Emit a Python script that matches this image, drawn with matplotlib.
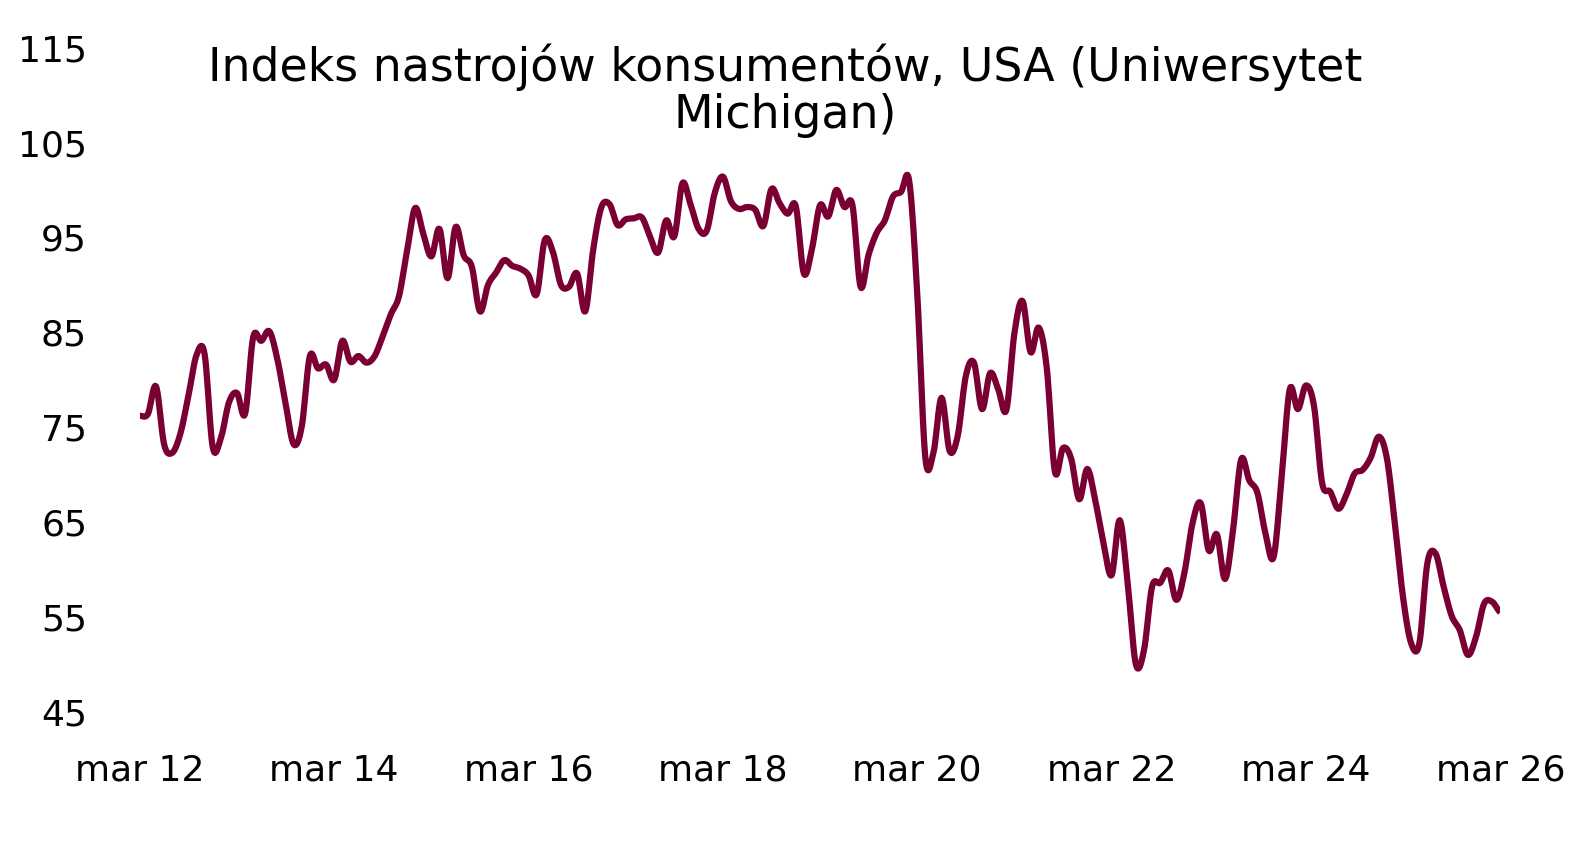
import numpy as np
import matplotlib
matplotlib.use("Agg")
import matplotlib.pyplot as plt

values = [76.2,76.4,79.3,73.2,72.3,74.3,78.3,82.6,82.7,72.9,
73.8,77.6,78.6,76.4,84.5,84.1,85.1,82.1,77.5,73.2,75.1,82.5,
81.2,81.6,80.0,84.1,81.9,82.5,81.8,82.5,84.6,86.9,88.8,93.6,
98.1,95.4,93.0,95.9,90.7,96.1,93.1,91.9,87.2,90.0,91.3,92.6,
92.0,91.7,91.0,89.0,94.7,93.5,90.0,89.8,91.2,87.2,93.8,98.2,
98.5,96.3,96.9,97.0,97.1,95.1,93.4,96.8,95.1,100.7,98.5,95.9,
95.7,99.7,101.4,98.8,98.0,98.2,97.9,96.2,100.1,98.6,97.5,98.3,
91.2,93.8,98.4,97.2,100.0,98.2,98.4,89.8,93.2,95.5,96.8,99.3,
99.8,101.0,89.1,71.8,72.3,78.1,72.5,74.1,80.4,81.8,76.9,80.7,
79.0,76.8,84.9,88.3,82.9,85.5,81.2,70.3,72.8,71.7,67.4,70.6,
67.2,62.8,59.4,65.2,58.4,50.0,51.5,58.2,58.6,59.9,56.8,59.7,
64.9,67.0,62.0,63.7,59.0,64.2,71.6,69.4,68.1,63.8,61.3,69.7,
79.0,76.9,79.4,77.2,69.1,68.2,66.4,67.9,70.1,70.5,71.8,74.0,
71.7,64.7,57.0,52.2,52.2,60.7,61.7,58.2,55.1,53.6,51.0,52.9,
56.4,56.6,55.5]
tick_labels = ["mar 12","mar 14","mar 16","mar 18","mar 20","mar 22","mar 24","mar 26"]
y_ticks = [45,55,65,75,85,95,105,115]

y = np.array(values)
x = np.arange(len(y), dtype=float)
# Catmull-Rom rendering for smooth line
P = np.concatenate([[y[0]], y, [y[-1]]])
xs, ys = [], []
t = np.linspace(0, 1, 10, endpoint=False)
for i in range(1, len(P) - 2):
    p0, p1, p2, p3 = P[i-1], P[i], P[i+1], P[i+2]
    seg = 0.5*((2*p1) + (-p0+p2)*t + (2*p0-5*p1+4*p2-p3)*t**2 + (-p0+3*p1-3*p2+p3)*t**3)
    xs.extend(x[i-1] + t); ys.extend(seg)
xs.append(x[-1]); ys.append(y[-1])

fig = plt.figure(figsize=(15.71, 8.66), dpi=100)
ax = fig.add_axes([0.089, 0.178, 0.866, 0.767])
ax.plot(xs, ys, color="#7a0033", lw=4.5, solid_capstyle="butt", solid_joinstyle="round")
ax.set_xlim(0, len(y) - 1)
ax.set_ylim(45, 115)
ax.set_yticks(y_ticks)
ax.set_yticklabels([str(v) for v in y_ticks], fontsize=26)
ax.set_xticks(np.arange(0, len(y), 24))
ax.set_xticklabels(tick_labels, fontsize=26)
for s in ax.spines.values():
    s.set_visible(False)
ax.tick_params(length=0)
ax.tick_params(axis="x", pad=30)
ax.tick_params(axis="y", pad=38)
fig.text(0.5, 0.895, "Indeks nastrojów konsumentów, USA (Uniwersytet\nMichigan)",
         ha="center", va="center", fontsize=33, linespacing=1.05)
fig.savefig("out.png", dpi=100)
